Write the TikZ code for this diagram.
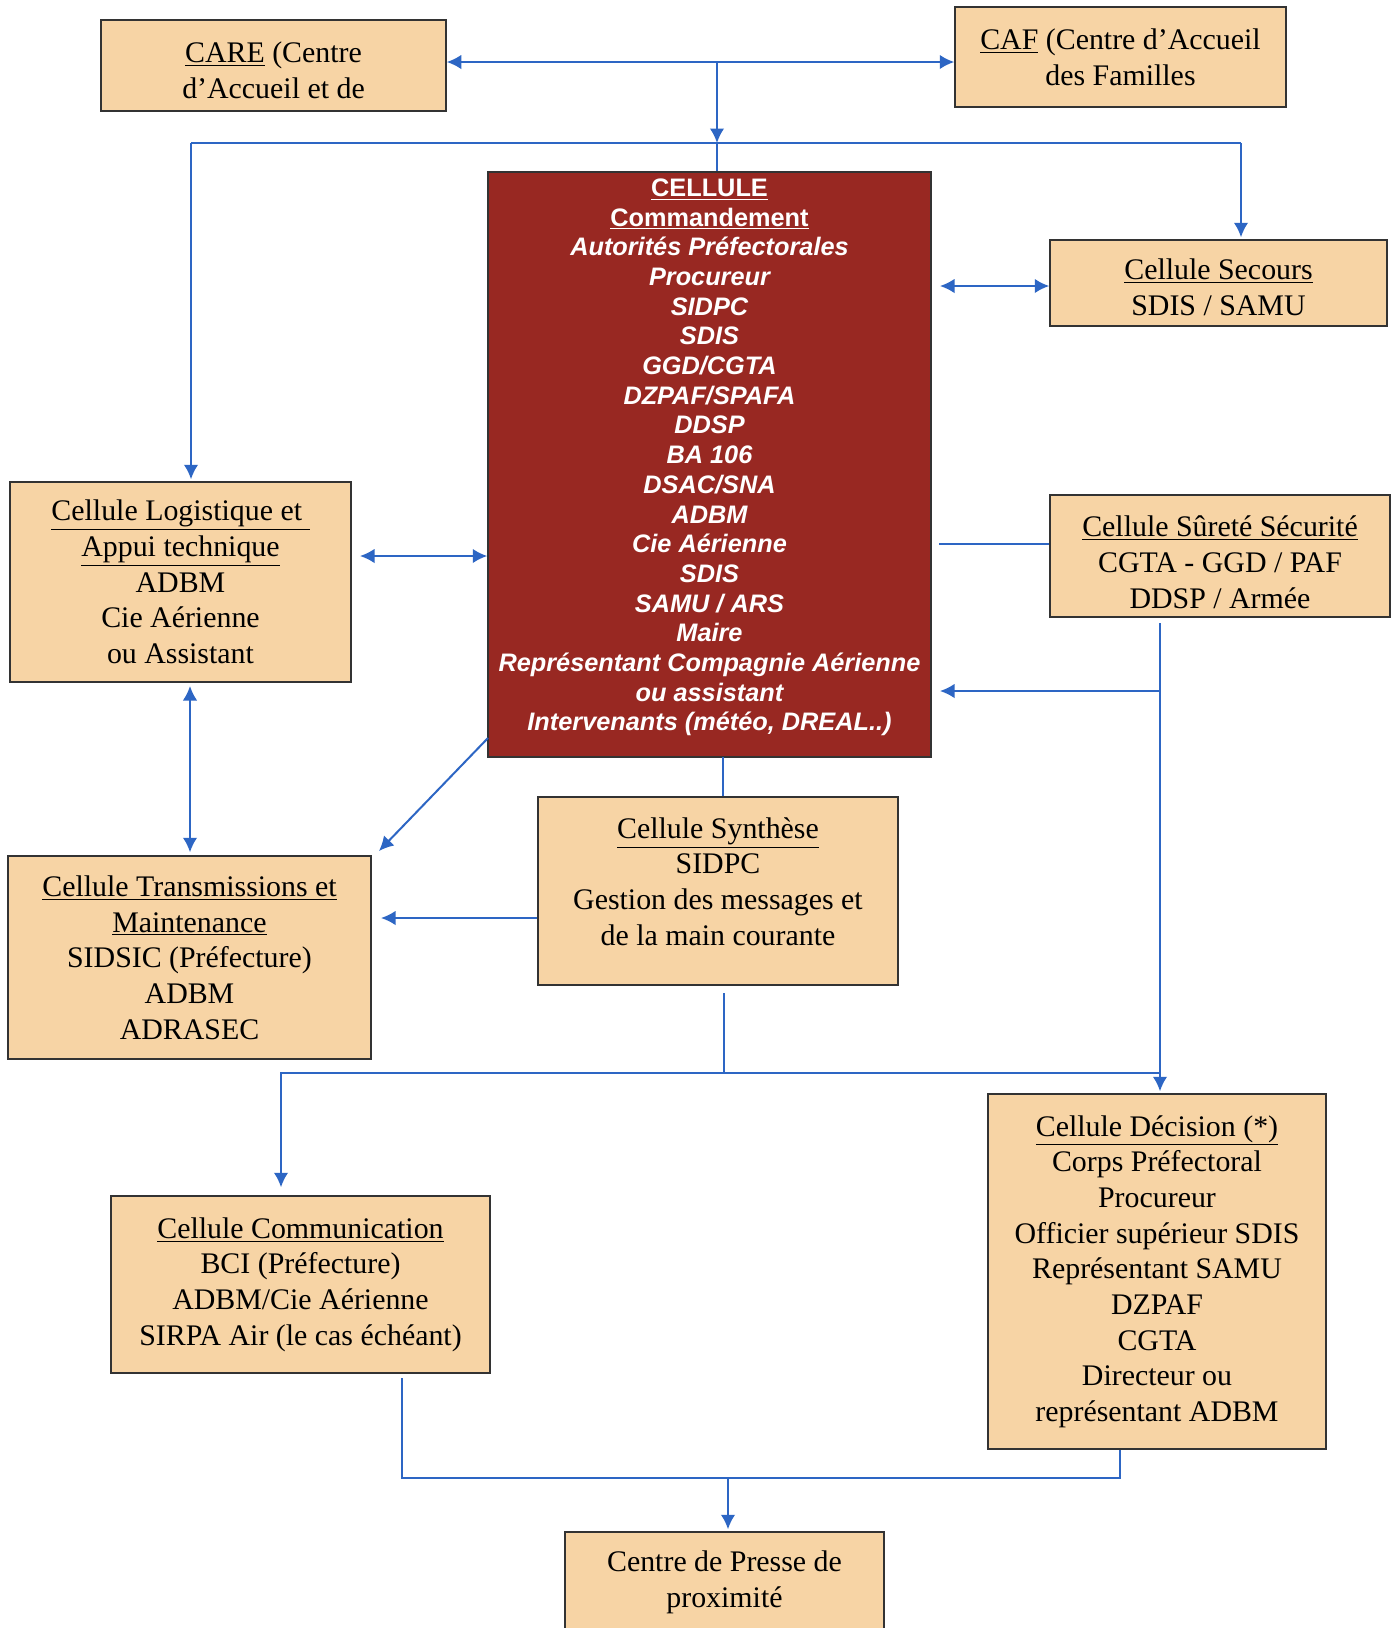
\documentclass[tikz,border=0pt]{standalone}
\usepackage{fontspec}
\setmainfont{Liberation Serif}
\setsansfont{Liberation Sans}
\usetikzlibrary{arrows.meta}
\usetikzlibrary{positioning}

\definecolor{cellfill}{RGB}{247,212,165}
\definecolor{cmdfill}{RGB}{152,40,34}
\definecolor{linkblue}{RGB}{45,102,196}

\tikzset {
  link path/.style = {
    draw = linkblue,
    line width = 0.4mm
  },
  % path style with an arrow at its end
  arr/.style = {
    link path,
    -{Latex[length=2.9mm,width=2.9mm]}
  },
  % path style with arrows at both ends
  darr/.style = {
    link path,
    {Latex[length=2.9mm,width=2.9mm]}-{Latex[length=2.9mm,width=2.9mm]}
  },
  % path style with no arrows
  narr/.style = {
    link path
  }
}
\tikzset {
  cell node/.style = {
    draw = black!80,
    line width = 0.3mm,
    fill = cellfill,
    align = center,
    inner sep = 0
  },
  % beige cell
  cell/.style = {
    cell node,
    font = \fontsize{17}{20.3}\selectfont
  },
  % central command cell
  command/.style = {
    cell node,
    fill = cmdfill,
    text = white,
    font = \sffamily\bfseries\itshape\fontsize{14.4}{16.9}\selectfont
  },
  box size/.style 2 args = {
    minimum width = #1,
    minimum height = #2
  }
}

\begin{document}
\begin{tikzpicture}[x=0.2mm, y=-0.2mm]
    \fill[white] (0,0) rectangle (1394,1628);
    \clip (0,0) rectangle (1394,1628);

    \node[cell, box size={69mm}{18.2mm}] (cell-care) at (273.5,65.5)
      {\rule{0pt}{17pt}\underline{CARE} (Centre\\d’Accueil et de};
    \node[cell, box size={66.2mm}{20mm}] (cell-caf) at (1120.5,57)
      {\underline{CAF} (Centre d’Accueil\\des Familles};
    \node[command, box size={88.6mm}{117mm}] (cell-cmd) at (709.5,464.5)
      {{\upshape\underline{CELLULE}}\\{\upshape\underline{Commandement}}\\
       Autorités Préfectorales\\Procureur\\SIDPC\\SDIS\\GGD/CGTA\\
       DZPAF/SPAFA\\DDSP\\BA 106\\DSAC/SNA\\ADBM\\Cie Aérienne\\SDIS\\
       SAMU / ARS\\Maire\\Représentant Compagnie Aérienne\\ou assistant\\
       Intervenants (météo, DREAL..)\rule[-11pt]{0pt}{1pt}};
    \node[cell, box size={67.4mm}{17.2mm}] (cell-secours) at (1218.5,283)
      {\rule{0pt}{17pt}\underline{Cellule Secours}\\SDIS / SAMU};
    \node[cell, box size={68.2mm}{40mm}] (cell-logi) at (180.5,582)
      {\underline{Cellule Logistique et }\\\underline{Appui technique}\\
       ADBM\\Cie Aérienne\\ou Assistant};
    \node[cell, box size={68mm}{24.4mm}] (cell-surete) at (1220,556)
      {\rule{0pt}{19pt}\underline{Cellule Sûreté Sécurité}\\CGTA - GGD / PAF\\
       DDSP / Armée};
    \node[cell, box size={72mm}{37.6mm}] (cell-synth) at (718,891)
      {\underline{Cellule Synthèse}\\SIDPC\\Gestion des messages et\\
       de la main courante\rule[-11pt]{0pt}{1pt}};
    \node[cell, box size={72.6mm}{40.6mm}] (cell-trans) at (189.5,957.5)
      {\underline{Cellule Transmissions et}\\\underline{Maintenance}\\
       SIDSIC (Préfecture)\\ADBM\\ADRASEC};
    \node[cell, box size={67.6mm}{71mm}] (cell-decis) at (1157,1271.5)
      {\underline{Cellule Décision (*)}\\Corps Préfectoral\\Procureur\\
       Officier supérieur SDIS\\Représentant SAMU\\DZPAF\\CGTA\\
       Directeur ou\\représentant ADBM};
    \node[cell, box size={75.8mm}{35.4mm}] (cell-comm) at (300.5,1284.5)
      {\underline{Cellule Communication}\\BCI (Préfecture)\\
       ADBM/Cie Aérienne\\SIRPA Air (le cas échéant)};
    \node[cell, box size={63.8mm}{20mm}] (cell-presse) at (724.5,1582)
      {Centre de Presse de\\proximité};

    % routing points
    \coordinate (top-hub) at (717,62);
    \coordinate (mid-hub) at (717,143);
    \coordinate (left-turn) at (191,143);
    \coordinate (right-turn) at (1241,143);
    \coordinate (secours-link) at (940,286);
    \coordinate (logi-link) at (360,556);
    \coordinate (surete-link) at (939,544);
    \coordinate (surete-drop) at (1160,623);
    \coordinate (surete-branch) at (1160,691);
    \coordinate (logi-trans) at (190,686);
    \coordinate (diag-start) at (488,738);
    \coordinate (diag-end) at (379,851);
    \coordinate (trans-link) at (381,918);
    \coordinate (synth-top) at (723,757);
    \coordinate (synth-drop) at (724,993);
    \coordinate (low-hub) at (724,1073);
    \coordinate (comm-turn) at (281,1073);
    \coordinate (decis-turn) at (1160,1073);
    \coordinate (comm-drop) at (402,1378);
    \coordinate (press-left) at (402,1478);
    \coordinate (press-hub) at (728,1478);
    \coordinate (press-right) at (1120,1478);

    \draw[darr] (cell-care.east |- top-hub) -- (cell-caf.west |- top-hub);
    \draw[arr] (top-hub) -- (mid-hub);
    \draw[narr] (mid-hub) -- (mid-hub |- cell-cmd.north);
    \draw[narr] (left-turn) -- (right-turn);
    \draw[arr] (left-turn) -- ([yshift=0.4mm]left-turn |- cell-logi.north);
    \draw[arr] (right-turn) -- ([yshift=0.4mm]right-turn |- cell-secours.north);

    \draw[darr] (secours-link) -- (cell-secours.west |- secours-link);
    \draw[darr] (logi-link) -- (cell-cmd.west |- logi-link);
    \draw[narr] (surete-link) -- (cell-surete.west |- surete-link);

    \draw[arr] (surete-drop) -- ([yshift=0.4mm]surete-drop |- cell-decis.north);
    \draw[arr] (surete-branch) -- (surete-branch -| secours-link);

    \draw[darr] (logi-trans) -- ([yshift=0.6mm]logi-trans |- cell-trans.north);
    \draw[arr] (diag-start) -- (diag-end);
    \draw[narr] (synth-top) -- (synth-top |- cell-synth.north);
    \draw[arr] (cell-synth.west |- trans-link) -- (trans-link);

    \draw[narr] (synth-drop) -- (low-hub);
    \draw[arr] (decis-turn) -- (comm-turn)
      -- ([yshift=1.6mm]comm-turn |- cell-comm.north);

    \draw[narr] (comm-drop) -- (press-left) -- (press-right)
      -- (press-right |- cell-decis.south);
    \draw[arr] (press-hub) -- ([yshift=0.4mm]press-hub |- cell-presse.north);
\end{tikzpicture}
\end{document}
